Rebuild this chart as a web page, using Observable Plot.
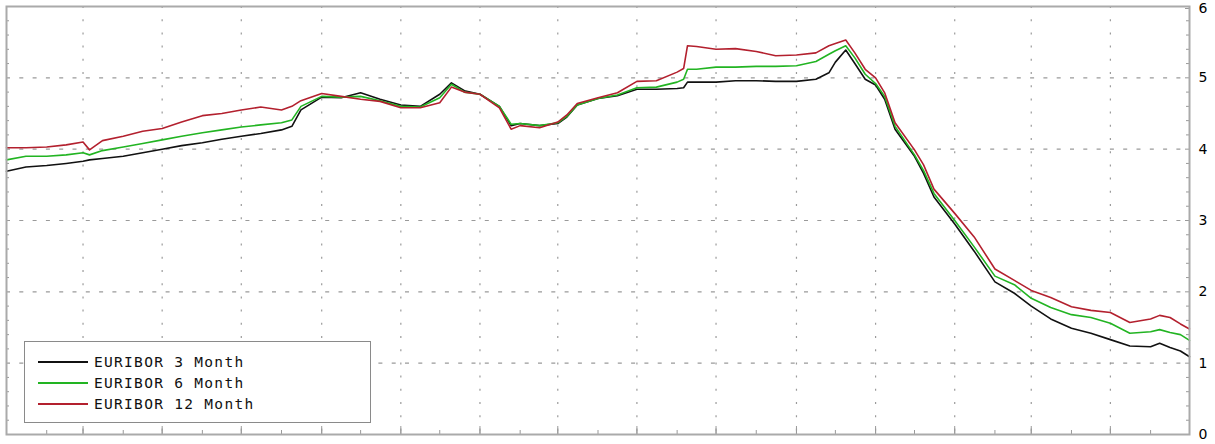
<!DOCTYPE html>
<html>
<head>
<meta charset="utf-8">
<script src="https://cdn.jsdelivr.net/npm/d3@7"></script>
<script src="https://cdn.jsdelivr.net/npm/@observablehq/plot@0.6"></script>
<style>
  html, body { margin: 0; padding: 0; background: #fff; }
  #wrap { position: relative; width: 1215px; height: 444px; overflow: hidden; }
  #legend { position: absolute; left: 24px; top: 341px; width: 347px; height: 82px;
    border: 1px solid #8a8a8a; background: #fff; box-sizing: border-box; }
  .row { position: absolute; left: 0; height: 20px; width: 100%; }
  .sw { position: absolute; left: 13px; top: 9px; width: 50px; height: 2px; }
  .lbl { position: absolute; left: 69px; top: 0; line-height: 20px;
    font-family: "DejaVu Sans Mono", monospace; font-size: 14.5px; letter-spacing: 1.3px; color: #111; }
</style>
</head>
<body>
<div id="wrap"><div id="chart"></div><div id="legend"></div></div>
<script>
const seriesNames = ["EURIBOR 3 Month", "EURIBOR 6 Month", "EURIBOR 12 Month"];
const seriesColors = ["#111111", "#22b422", "#b3202e"];
const yTicks = [0, 1, 2, 3, 4, 5, 6];

const dates = ["2007-01-01","2007-01-16","2007-02-01","2007-02-16","2007-03-01","2007-03-06","2007-03-16","2007-04-01","2007-04-16","2007-05-01","2007-05-16","2007-06-01","2007-06-16","2007-07-01","2007-07-16","2007-08-01","2007-08-09","2007-08-16","2007-09-01","2007-09-16","2007-10-01","2007-10-16","2007-11-01","2007-11-16","2007-12-01","2007-12-10","2007-12-20","2008-01-01","2008-01-16","2008-01-25","2008-02-01","2008-02-16","2008-03-01","2008-03-08","2008-03-16","2008-04-01","2008-04-16","2008-05-01","2008-05-16","2008-06-01","2008-06-06","2008-06-09","2008-06-16","2008-07-01","2008-07-16","2008-08-01","2008-08-16","2008-09-01","2008-09-16","2008-09-26","2008-10-01","2008-10-09","2008-10-16","2008-10-24","2008-11-01","2008-11-08","2008-11-16","2008-12-01","2008-12-08","2008-12-16","2009-01-01","2009-01-16","2009-02-01","2009-02-16","2009-03-01","2009-03-16","2009-04-01","2009-04-16","2009-05-01","2009-05-16","2009-06-01","2009-06-08","2009-06-16","2009-06-24","2009-07-01"];

const euribor3m = [3.69,3.75,3.77,3.80,3.83,3.85,3.87,3.90,3.95,4.00,4.05,4.09,4.14,4.18,4.22,4.27,4.32,4.55,4.73,4.72,4.79,4.70,4.62,4.60,4.77,4.93,4.82,4.77,4.60,4.33,4.36,4.33,4.36,4.45,4.62,4.71,4.75,4.84,4.84,4.85,4.86,4.94,4.94,4.94,4.96,4.96,4.95,4.95,4.98,5.07,5.22,5.39,5.20,4.98,4.90,4.70,4.28,3.90,3.66,3.33,2.95,2.57,2.14,1.98,1.80,1.62,1.49,1.42,1.33,1.24,1.23,1.28,1.22,1.17,1.09];

const euribor6m = [3.85,3.90,3.90,3.92,3.95,3.92,3.98,4.03,4.08,4.13,4.18,4.23,4.27,4.31,4.34,4.37,4.41,4.60,4.74,4.73,4.74,4.68,4.60,4.59,4.72,4.91,4.80,4.77,4.60,4.35,4.36,4.33,4.37,4.46,4.62,4.71,4.76,4.86,4.87,4.94,4.98,5.12,5.12,5.15,5.15,5.16,5.16,5.17,5.23,5.33,5.38,5.45,5.28,5.05,4.92,4.74,4.32,3.92,3.70,3.38,3.00,2.63,2.22,2.10,1.91,1.78,1.68,1.64,1.56,1.42,1.44,1.47,1.43,1.40,1.32];

const euribor12m = [4.02,4.02,4.03,4.06,4.10,3.99,4.12,4.18,4.25,4.29,4.38,4.47,4.50,4.55,4.59,4.55,4.60,4.68,4.78,4.74,4.70,4.67,4.58,4.58,4.65,4.87,4.80,4.77,4.58,4.28,4.33,4.30,4.38,4.48,4.64,4.72,4.79,4.95,4.96,5.08,5.13,5.45,5.44,5.40,5.41,5.37,5.31,5.32,5.35,5.45,5.48,5.53,5.35,5.12,5.00,4.79,4.37,3.99,3.78,3.44,3.10,2.77,2.32,2.16,2.02,1.92,1.79,1.74,1.71,1.57,1.62,1.67,1.64,1.55,1.48];

const seriesValues = [euribor3m, euribor6m, euribor12m];
const parse = d3.utcParse("%Y-%m-%d");
const x0 = parse("2007-01-01"), x1 = parse("2009-07-01");

const rows = [];
seriesValues.forEach((vals, s) => vals.forEach((v, i) => rows.push({date: parse(dates[i]), value: v, series: seriesNames[s]})));

const monthTicks = d3.utcMonth.range(parse("2007-02-01"), x1);
const majorTicks = monthTicks.filter(d => d.getUTCMonth() % 2 === 0);
const minorY = d3.range(1, 30).map(i => i / 5).filter(v => Math.abs(v - Math.round(v)) > 1e-6);

const chart = Plot.plot({
  width: 1215,
  height: 444,
  marginLeft: 6,
  marginRight: 26,
  marginTop: 6,
  marginBottom: 10,
  style: {fontFamily: "DejaVu Sans", fontSize: "13px", background: "#fff", color: "#000", overflow: "visible"},
  x: {type: "utc", domain: [x0, x1]},
  y: {domain: [0, 6]},
  color: {domain: seriesNames, range: seriesColors},
  marks: [
    Plot.ruleY([1, 2, 3, 4, 5], {stroke: "#9a9a9a", strokeWidth: 1.2, strokeDasharray: "4,9.3"}),
    Plot.ruleX(majorTicks, {stroke: "#9a9a9a", strokeWidth: 1.2, strokeDasharray: "2,11.2"}),
    Plot.axisY({anchor: "left", ticks: minorY, tickSize: -3, text: null, stroke: "#999", label: null}),
    Plot.axisY({anchor: "right", ticks: minorY, tickSize: -4, text: null, stroke: "#999", label: null}),
    Plot.axisY({anchor: "right", ticks: yTicks.slice(0, 6), tickSize: -5, tickPadding: 14, stroke: "#999", label: null, fontSize: 14, tickFormat: d => String(d), fill: "#000"}),
    Plot.axisY({anchor: "right", ticks: yTicks.slice(6), tickSize: -5, tickPadding: 14, stroke: "#999", label: null, fontSize: 14, tickFormat: d => String(d), fill: "#000", dy: 2}),
    Plot.axisX({anchor: "bottom", ticks: monthTicks, tickSize: -4, text: null, stroke: "#999", label: null}),
    Plot.axisX({anchor: "bottom", ticks: majorTicks, tickSize: -8, text: null, stroke: "#999", label: null}),
    Plot.line(rows, {x: "date", y: "value", z: "series", stroke: "series", strokeWidth: 1.6, curve: "linear"}),
    Plot.frame({stroke: "#aaaaaa", strokeWidth: 2})
  ]
});
document.getElementById("chart").appendChild(chart);

const legend = document.getElementById("legend");
seriesNames.forEach((name, i) => {
  const row = document.createElement("div");
  row.className = "row";
  row.style.top = (10 + i * 21) + "px";
  const sw = document.createElement("div");
  sw.className = "sw";
  sw.style.background = seriesColors[i];
  const lbl = document.createElement("div");
  lbl.className = "lbl";
  lbl.textContent = name;
  row.appendChild(sw);
  row.appendChild(lbl);
  legend.appendChild(row);
});
</script>
</body>
</html>
